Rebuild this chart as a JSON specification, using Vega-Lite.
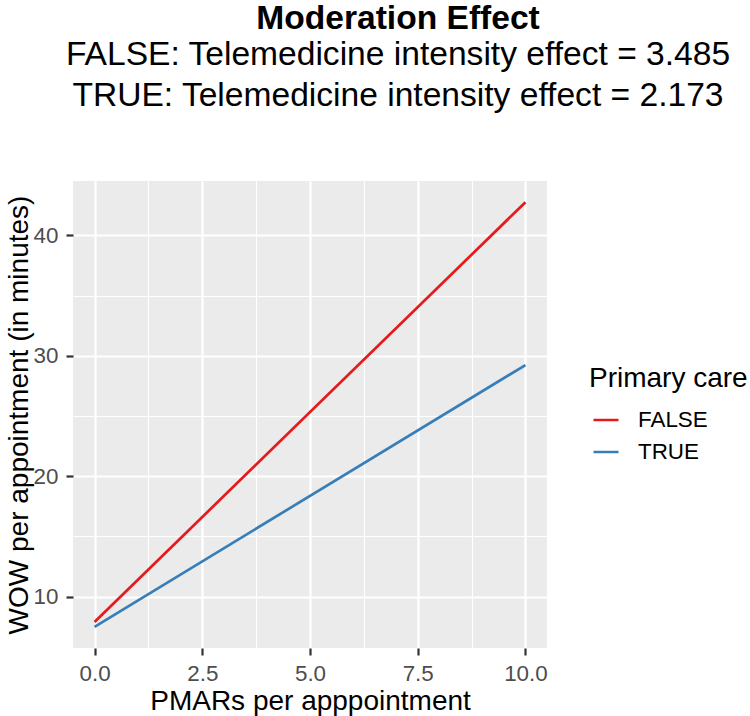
{
  "$schema": "https://vega.github.io/schema/vega-lite/v6.json",
  "width": 474,
  "height": 467,
  "autosize": {"type": "none"},
  "padding": {"left": 73, "top": 181, "right": 203, "bottom": 68},
  "background": "white",
  "title": {
    "text": "Moderation Effect",
    "subtitle": ["FALSE: Telemedicine intensity effect = 3.485", "TRUE: Telemedicine intensity effect = 2.173"],
    "font": "Liberation Sans",
    "fontSize": 33.6,
    "fontWeight": "bold",
    "color": "black",
    "subtitleFont": "Liberation Sans",
    "subtitleFontSize": 33.6,
    "subtitleColor": "black",
    "subtitleLineHeight": 41,
    "subtitlePadding": 3,
    "anchor": "middle",
    "frame": "group",
    "dx": 88,
    "offset": 68
  },
  "data": {
    "values": [
      {"pmars": 0, "wow": 7.9, "primary": "FALSE"},
      {"pmars": 10, "wow": 42.75, "primary": "FALSE"},
      {"pmars": 0, "wow": 7.5, "primary": "TRUE"},
      {"pmars": 10, "wow": 29.23, "primary": "TRUE"}
    ]
  },
  "layer": [
    {
      "mark": {"type": "point", "opacity": 0},
      "encoding": {
        "x": {
          "field": "pmars", "type": "quantitative",
          "scale": {"domain": [-0.5, 10.5], "nice": false, "zero": false},
          "axis": {"orient": "bottom", "values": [1.25, 3.75, 6.25, 8.75], "grid": true, "gridColor": "white", "gridWidth": 1.1, "labels": false, "ticks": false, "domain": false, "title": null}
        },
        "y": {
          "field": "wow", "type": "quantitative",
          "scale": {"domain": [5.74, 44.51], "nice": false, "zero": false},
          "axis": {"orient": "left", "values": [15, 25, 35], "grid": true, "gridColor": "white", "gridWidth": 1.1, "labels": false, "ticks": false, "domain": false, "title": null}
        }
      }
    },
    {
      "mark": {"type": "line", "strokeWidth": 2.7},
      "encoding": {
        "x": {
          "field": "pmars", "type": "quantitative",
          "scale": {"domain": [-0.5, 10.5], "nice": false, "zero": false},
          "axis": {
            "orient": "bottom", "values": [0, 2.5, 5, 7.5, 10], "format": ".1f",
            "grid": true, "gridColor": "white", "gridWidth": 2.2,
            "domain": false, "ticks": true, "tickSize": 7, "tickWidth": 2.2, "tickColor": "#333333",
            "labelFont": "Liberation Sans", "labelFontSize": 22.4, "labelColor": "#4D4D4D", "labelPadding": 7,
            "title": "PMARs per apppointment", "titleFont": "Liberation Sans", "titleFontSize": 28, "titleFontWeight": "normal", "titleColor": "black",
            "titleBaseline": "alphabetic", "titleY": 61, "titleX": 237
          }
        },
        "y": {
          "field": "wow", "type": "quantitative",
          "scale": {"domain": [5.74, 44.51], "nice": false, "zero": false},
          "axis": {
            "orient": "left", "values": [10, 20, 30, 40], "format": "d",
            "grid": true, "gridColor": "white", "gridWidth": 2.2,
            "domain": false, "ticks": true, "tickSize": 7, "tickWidth": 2.2, "tickColor": "#333333",
            "labelFont": "Liberation Sans", "labelFontSize": 22.4, "labelColor": "#4D4D4D", "labelPadding": 8,
            "title": "WOW per appointment (in minutes)", "titleFont": "Liberation Sans", "titleFontSize": 28, "titleFontWeight": "normal", "titleColor": "black",
            "titleBaseline": "alphabetic", "titleAngle": 270, "titleX": -46, "titleY": 233.5
          }
        },
        "color": {
          "field": "primary", "type": "nominal",
          "scale": {"domain": ["FALSE", "TRUE"], "range": ["#E41A1C", "#377EB8"]},
          "legend": {
            "title": "Primary care", "orient": "none", "legendX": 516, "legendY": 184,
            "padding": 0, "titleFont": "Liberation Sans", "titleFontSize": 28, "titleFontWeight": "normal", "titleColor": "black", "titlePadding": 13,
            "symbolType": "stroke", "symbolSize": 625, "symbolStrokeWidth": 2.5, "symbolOffset": 3,
            "labelFont": "Liberation Sans", "labelFontSize": 22.4, "labelColor": "black", "labelOffset": 18,
            "rowPadding": 6
          }
        }
      }
    }
  ],
  "resolve": {"axis": {"x": "independent", "y": "independent"}},
  "config": {"view": {"fill": "#EBEBEB", "stroke": null}}
}
